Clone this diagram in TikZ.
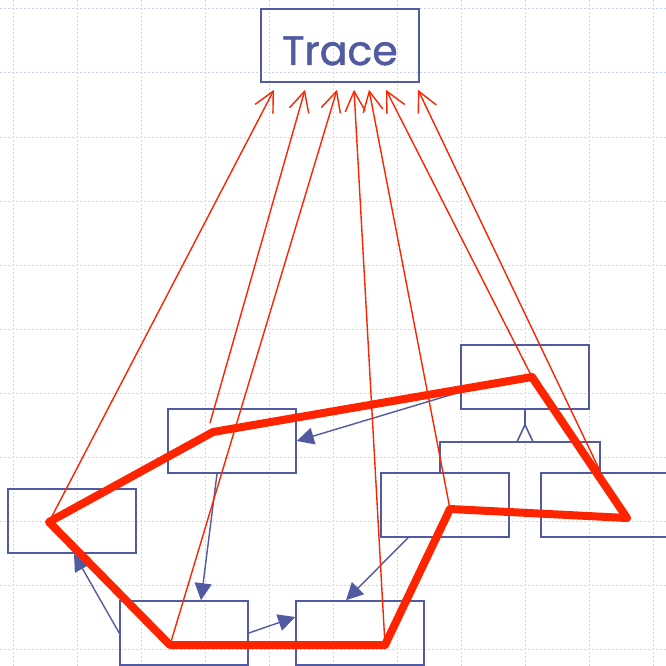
\documentclass[tikz,border=0pt]{standalone}
\usepackage{fontspec}
\newfontfamily\labelfont[FakeBold=1.2]{Poppins}
\usetikzlibrary{arrows.meta}
\definecolor{umlblue}{RGB}{82,90,162}
\definecolor{pathred}{RGB}{255,36,0}
\definecolor{gridblue}{RGB}{200,211,246}
\tikzset{
  classbox/.style={draw=umlblue, line width=1.6pt, rectangle, inner sep=0pt,
    minimum width=128pt, minimum height=64pt},
  assoc/.style={draw=umlblue, line width=1.4pt,
    -{Triangle[length=17pt,width=17pt]}, fill=umlblue},
  tracearrow/.style={draw=pathred, line width=1.4pt,
    -{Straight Barb[length=20pt,width=20pt,line width=1.4pt]}},
  tracepath/.style={draw=pathred, line width=8pt, line join=round},
  gridline/.style={draw=gridblue, line width=1pt, dash pattern=on 2pt off 2pt}
}
\begin{document}
\begin{tikzpicture}[x=1pt,y=-1pt]
\useasboundingbox (0,0) rectangle (666,666);
\clip (0,0) rectangle (666,666);
\fill[white] (0,0) rectangle (666,666);
% background grid
\foreach \gx in {13,77,...,653} \draw[gridline] (\gx,0) -- (\gx,666);
\foreach \gy in {9,73,...,649} \draw[gridline] (0,\gy) -- (666,\gy);

% classes
\node[classbox, minimum width=158pt, minimum height=73pt] (trace) at (340,45.5) {};
\node[umlblue, inner sep=0pt, anchor=base] (tracelabel) at (340,65)
  {\labelfont\fontsize{41}{43}\selectfont Trace};
\node[classbox] (A) at (72,521) {};
\node[classbox] (B) at (184,633) {};
\node[classbox] (C) at (360,633) {};
\node[classbox] (D) at (445,505) {};
\node[classbox] (E) at (605,505) {};
\node[classbox] (F) at (525,377) {};
\node[classbox] (G) at (232,441) {};

% generalisation
\coordinate (gtip) at ([yshift=-15pt]F.south);
\coordinate (gbar) at ([yshift=-32pt]F.south);
\draw[umlblue, line width=1.6pt] (F.south) -- (gtip);
\draw[umlblue, line width=1.6pt] ([xshift=-5pt]D.north) |- (gbar) -| ([xshift=-5pt]E.north);
\draw[umlblue, line width=1.6pt, fill=white] (gtip) -- ++(-8,17) -- ++(16,0) -- cycle;

% associations
\draw[assoc] ([yshift=-15pt]F.west) -- (G.east);
\draw[assoc] ([xshift=-15pt]G.south) -- ([xshift=17pt]B.north);
\draw[assoc] (B.west) -- ([xshift=2pt]A.south);
\draw[assoc] (B.east) -- ([yshift=16pt]C.west);
\draw[assoc] ([xshift=-37pt]D.south) -- ([xshift=-14pt]C.north);

% traced path
\coordinate (p1) at (49,522);
\coordinate (p2) at (213,432);
\coordinate (p3) at (532,377);
\coordinate (p4) at (627,518);
\coordinate (p5) at (450,509);
\coordinate (p6) at (385,645);
\coordinate (p7) at (170,645);
\coordinate (g1) at (210,423);
\coordinate (e1) at (600,471);
\draw[tracepath] (p1) -- (p2) -- (p3) -- (p4) -- (p5) -- (p6) -- (p7) -- cycle;

% trace links
\draw[tracearrow] (p1) -- ([xshift=-66pt,yshift=-7pt]trace.south);
\draw[tracearrow] (g1) -- ([xshift=-35pt,yshift=-7pt]trace.south);
\draw[tracearrow] (p7) -- ([xshift=-3pt,yshift=-7pt]trace.south);
\draw[tracearrow] (p6) -- ([xshift=14pt,yshift=-7pt]trace.south);
\draw[tracearrow] (p5) -- ([xshift=29pt,yshift=-7pt]trace.south);
\draw[tracearrow] (p3) -- ([xshift=46pt,yshift=-7pt]trace.south);
\draw[tracearrow] (e1) -- ([xshift=78pt,yshift=-7pt]trace.south);
\end{tikzpicture}
\end{document}
